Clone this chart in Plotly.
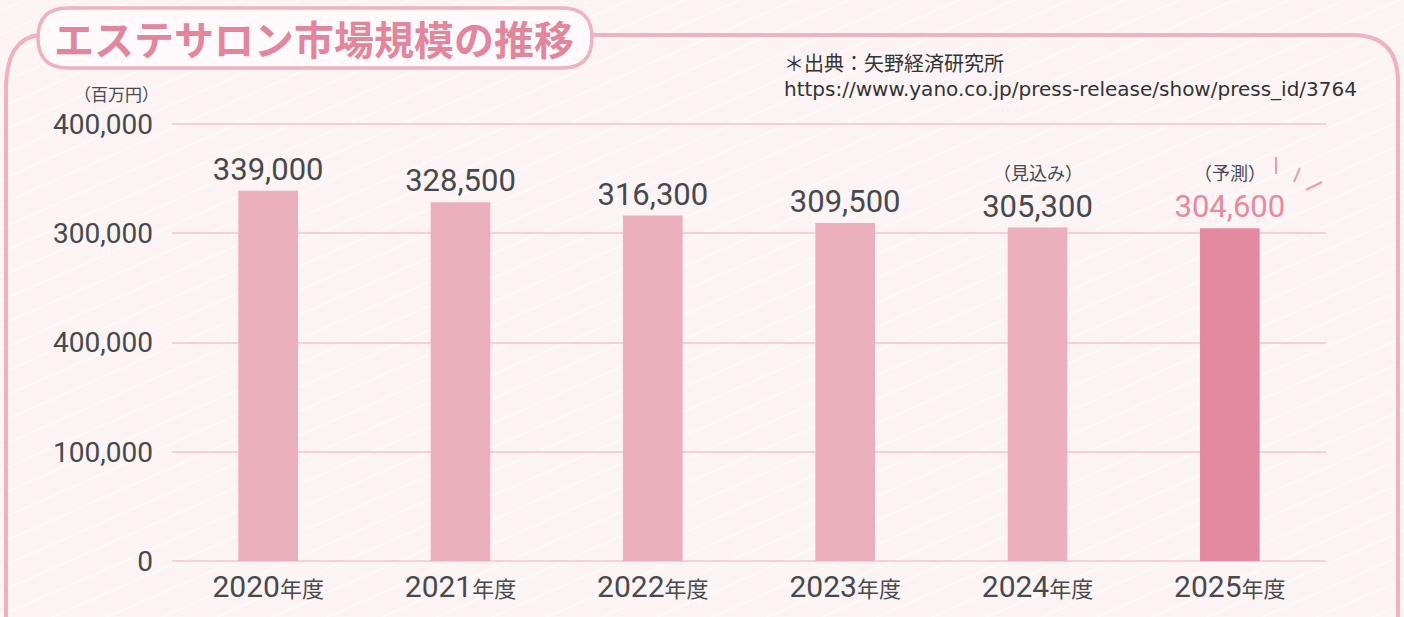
import plotly.graph_objects as go

# ---- data ----
years = ["2020", "2021", "2022", "2023", "2024", "2025"]
values = [339000, 328500, 316300, 309500, 305300, 304600]
notes = ["", "", "", "", "（見込み）", "（予測）"]
ytick_vals = [0, 100000, 200000, 300000, 400000]
ytick_text = ["0", "100,000", "400,000", "300,000", "400,000"]

W, H = 1404, 617
ML, MR, MT, MB = 172, 78, 123, 55
PW, PH = W - ML - MR, H - MT - MB

def px(x, y):
    return f"{(x - ML) / PW:.5f},{(H - MB - y) / PH:.5f}"

bar_col = "#ebafbe"
hi_col = "#e48aa0"
txt_col = "#47494d"
num_font = "Roboto, 'Noto Sans CJK JP', sans-serif"
jp_font = "'Noto Sans CJK JP', sans-serif"

cats = [f"{y}年度" for y in years]
ticktext = [f"{y}<span style='font-size:22px'>年度</span>" for y in years]
colors = [bar_col] * (len(years) - 1) + [hi_col]
tcolors = [txt_col] * (len(years) - 1) + ["#e7899f"]

fig = go.Figure()
fig.add_trace(go.Bar(
    x=cats, y=values, width=0.31,
    marker=dict(color=colors, line=dict(width=0)),
    text=[f"{v:,}" for v in values], textposition="outside", constraintext="none",
    textfont=dict(family=num_font, size=31, color=tcolors),
    cliponaxis=False, hoverinfo="skip",
))

annotations = []
for c, v, n in zip(cats, values, notes):
    if n:
        annotations.append(dict(x=c, y=v, xref="x", yref="y", text=n, showarrow=False,
                                yshift=56, font=dict(family=jp_font, size=18, color=txt_col)))

annotations += [
    dict(text="エステサロン市場規模の推移", xref="paper", yref="paper",
         x=(314 - ML) / PW, y=(H - MB - 38) / PH, xanchor="center", yanchor="middle",
         showarrow=False, font=dict(family=jp_font, size=40, color="#e2869d", weight="bold")),
    dict(text="（百万円）", xref="paper", yref="paper",
         x=(116 - ML) / PW, y=(H - MB - 93) / PH, xanchor="center", yanchor="middle",
         showarrow=False, font=dict(family=jp_font, size=17, color=txt_col)),
    dict(text="＊出典：矢野経済研究所", xref="paper", yref="paper",
         x=(782 - ML) / PW, y=(H - MB - 62) / PH, xanchor="left", yanchor="middle",
         showarrow=False, font=dict(family=jp_font, size=20, color="#333333")),
    dict(text="https://www.yano.co.jp/press-release/show/press_id/3764", xref="paper", yref="paper",
         x=(782 - ML) / PW, y=(H - MB - 89) / PH, xanchor="left", yanchor="middle",
         showarrow=False, font=dict(family="'DejaVu Sans', sans-serif", size=20, color="#333333")),
]

frame_col = "#eeb2c2"
shapes = []
# faint diagonal background stripes (decoration)
for k in range(-30, 30):
    x0 = k * 55
    shapes.append(dict(type="line", xref="paper", yref="paper", layer="below",
                       x0=(x0 - ML) / PW, y0=(H - MB - 640) / PH,
                       x1=(x0 + 1500 - ML) / PW, y1=(H - MB - (-20)) / PH,
                       line=dict(color="rgba(255,255,255,0.45)", width=2)))
# outer frame
shapes.append(dict(type="path", xref="paper", yref="paper", layer="below",
                   path=f"M{px(40,35)} Q{px(6,38)} {px(6,90)} L{px(6,640)}",
                   line=dict(color=frame_col, width=4)))
shapes.append(dict(type="path", xref="paper", yref="paper", layer="below",
                   path=f"M{px(590,35)} L{px(1352,35)} Q{px(1398,35)} {px(1398,82)} L{px(1398,640)}",
                   line=dict(color=frame_col, width=4)))
# title pill
shapes.append(dict(type="path", xref="paper", yref="paper", layer="below",
                   path=(f"M{px(68,8)} L{px(562,8)} Q{px(592,8)} {px(592,38)} Q{px(592,68)} {px(562,68)} "
                         f"L{px(68,68)} Q{px(38,68)} {px(38,38)} Q{px(38,8)} {px(68,8)} Z"),
                   fillcolor="#fefafb", line=dict(color=frame_col, width=3.5)))
# sparkle marks near forecast label
for (x0, y0, x1, y1) in [(1276, 157, 1276, 174), (1300, 168, 1294, 182), (1322, 182, 1306, 190)]:
    shapes.append(dict(type="line", xref="paper", yref="paper",
                       x0=(x0 - ML) / PW, x1=(x1 - ML) / PW,
                       y0=(H - MB - y0) / PH, y1=(H - MB - y1) / PH,
                       line=dict(color="#ec9bb0", width=2)))

fig.update_layout(
    width=W, height=H,
    margin=dict(l=ML, r=MR, t=MT, b=MB, autoexpand=False),
    paper_bgcolor="#fbf3f4", plot_bgcolor="rgba(0,0,0,0)",
    showlegend=False, bargap=0.69,
    annotations=annotations, shapes=shapes,
    xaxis=dict(tickmode="array", tickvals=cats, ticktext=ticktext, showgrid=False,
               zeroline=False, showline=False, ticks="", ticklabelstandoff=4,
               tickfont=dict(family=num_font, size=30, color=txt_col), fixedrange=True),
    yaxis=dict(range=[-1000, 401000], tickmode="array", tickvals=ytick_vals, ticktext=ytick_text,
               showgrid=True, gridcolor="#f5cfd9", gridwidth=2, zeroline=False, showline=False,
               ticks="", ticklabelstandoff=18,
               tickfont=dict(family=num_font, size=28, color=txt_col), fixedrange=True),
)

fig.write_html("out.html", config={"displayModeBar": False},
               post_script="document.body.style.margin='0px';document.body.style.overflow='hidden';")
